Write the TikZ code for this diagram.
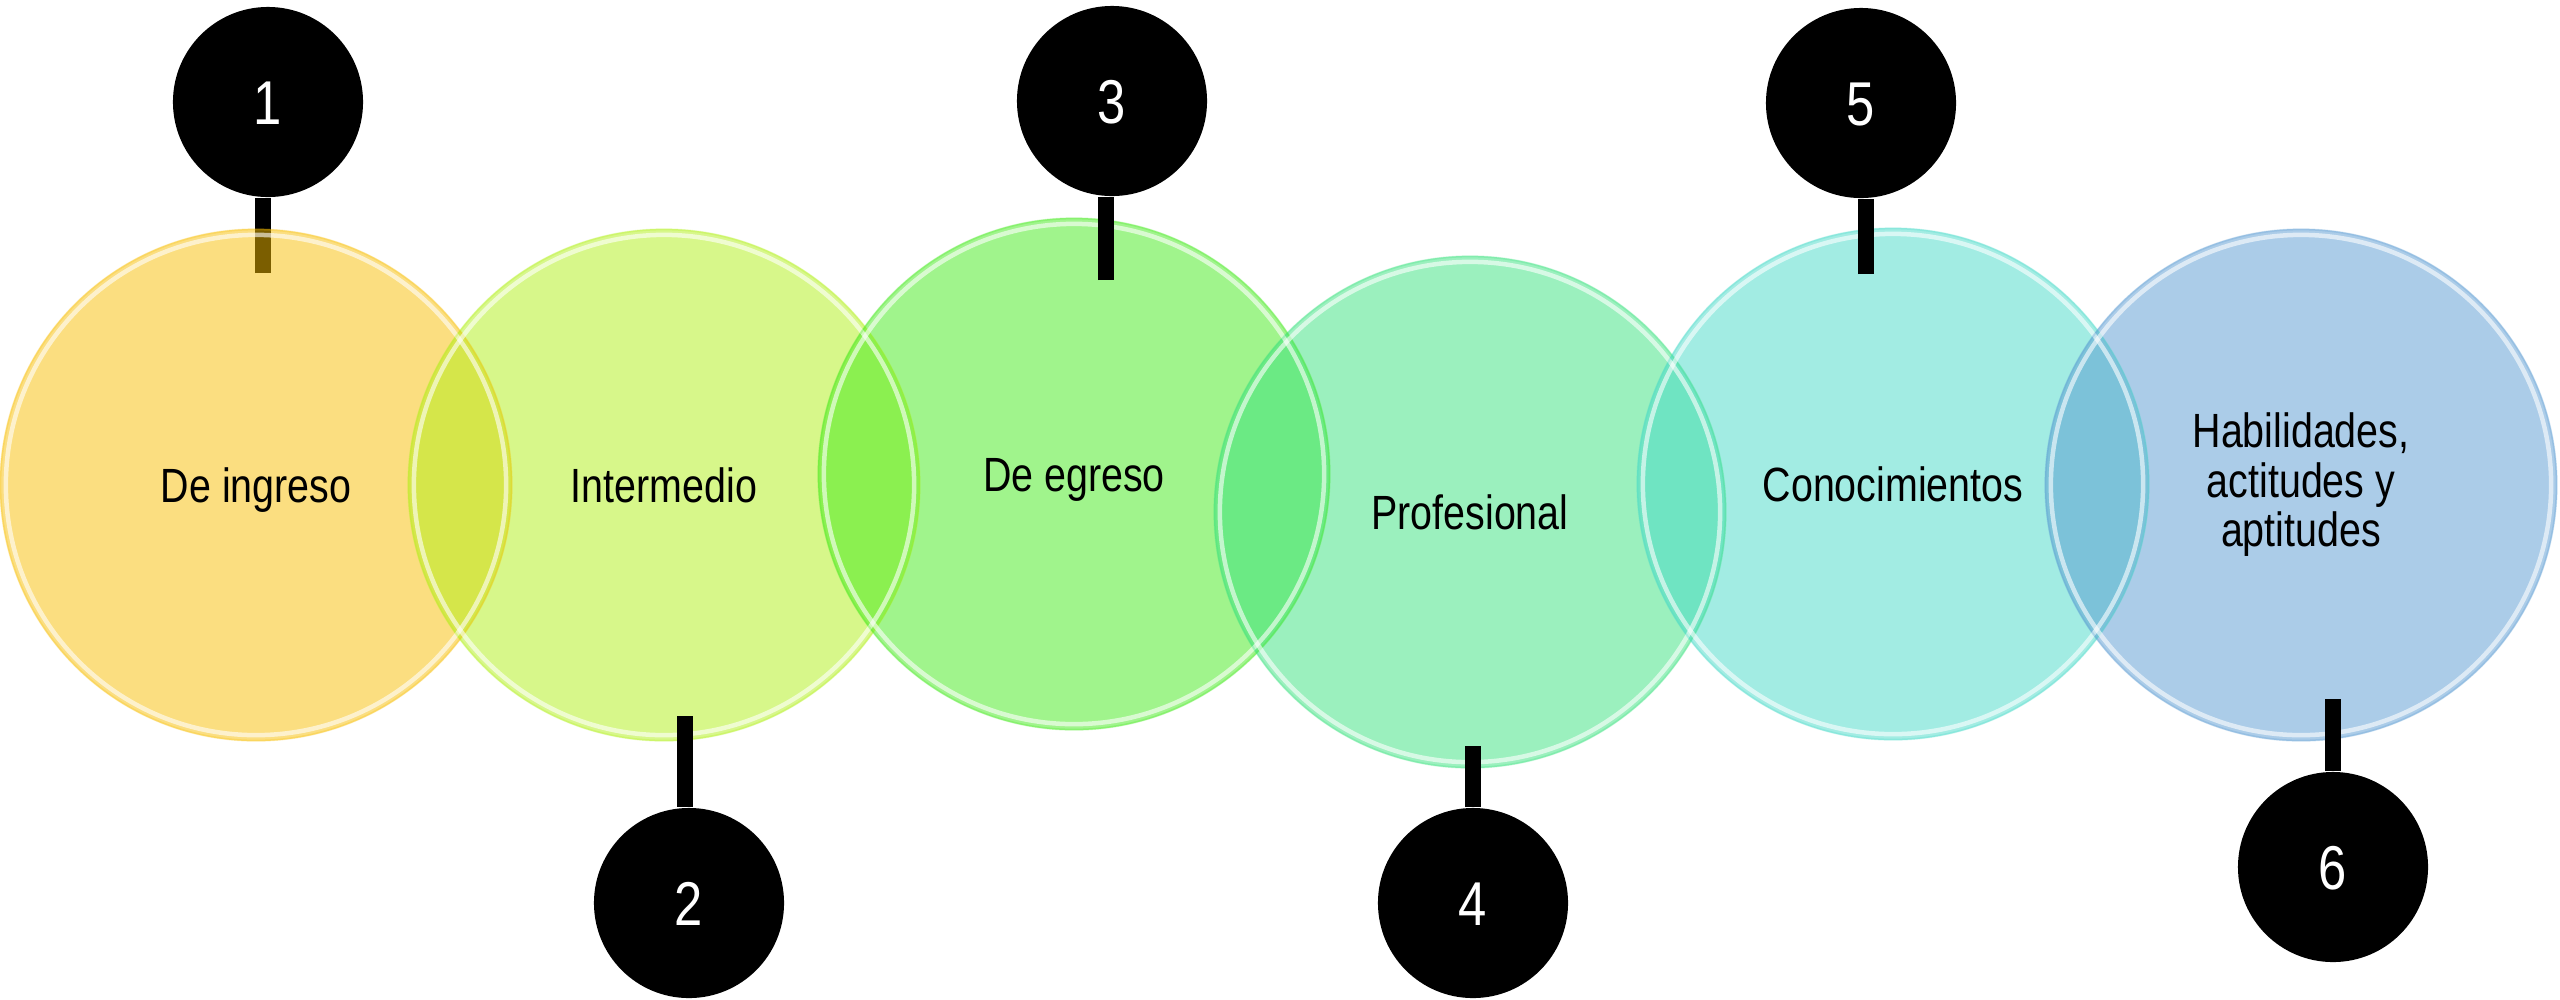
\documentclass[tikz,border=0pt]{standalone}
\usepackage{fontspec}
\setmainfont{Liberation Sans}[FakeStretch=0.82]
\definecolor{c1}{RGB}{247,189,1}
\definecolor{c2}{RGB}{175,239,21}
\definecolor{c3}{RGB}{65,233,25}
\definecolor{c4}{RGB}{55,225,125}
\definecolor{c5}{RGB}{69,217,199}
\definecolor{c6}{RGB}{87,153,209}
\tikzset{
  big/.style={circle, minimum size=5.12cm, inner sep=0pt, fill=#1, fill opacity=0.5, text opacity=1,
    font=\fontsize{13.66pt}{14.08pt}\selectfont, align=center, text height=0.34cm, text depth=0pt},
  multi/.style={text height=, text depth=},
  rim/.style={draw=white, draw opacity=0.6, line width=0.045cm},
  edge/.style={draw=#1, draw opacity=0.25, line width=0.02cm},
  dot/.style={circle, fill=black, minimum size=1.9cm, inner sep=0pt, text=white,
    font=\fontsize{17.6pt}{18pt}\selectfont, text height=0.445cm, text depth=0pt},
  stem/.style={line width=0.155cm, line cap=butt, draw=black}
}
\begin{document}
\begin{tikzpicture}[x=0.01cm,y=-0.01cm]
\useasboundingbox (0,0) rectangle (2560,999);
% black markers
\node[dot] (n1) at (268,102) {1};
\coordinate (e1) at (263,273);
\draw[stem] (e1) -- (e1 |- n1.south);
% big circles
\node[big=c1] (b1) at (256,485) {De ingreso};
\node[big=c2] (b2) at (664,485) {Intermedio};
\node[big=c3] (b3) at (1074,474) {De egreso};
\node[big=c4] (b4) at (1470,512) {Profesional};
\node[big=c5] (b5) at (1893,484) {Conocimientos};
\node[big=c6, multi] (b6) at (2301,485) {Habilidades,\\actitudes y\\aptitudes};
\foreach \b/\c in {b1/c1,b2/c2,b3/c3,b4/c4,b5/c5,b6/c6}{
  \draw[edge=\c] (\b) circle (2.555cm);
  \draw[rim] (\b) circle (2.5cm);
}
% other markers
\node[dot] (n2) at (689,903) {2};
\node[dot] (n3) at (1112,101) {3};
\node[dot] (n4) at (1473,903) {4};
\node[dot] (n5) at (1861,103) {5};
\node[dot] (n6) at (2333,867) {6};
\coordinate (e2) at (685,716);
\coordinate (e3) at (1106,280);
\coordinate (e4) at (1473,746);
\coordinate (e5) at (1866,274);
\coordinate (e6) at (2333,699);
\draw[stem] (e2) -- (e2 |- n2.north);
\draw[stem] (e3) -- (e3 |- n3.south);
\draw[stem] (e4) -- (e4 |- n4.north);
\draw[stem] (e5) -- (e5 |- n5.south);
\draw[stem] (e6) -- (e6 |- n6.north);
\end{tikzpicture}
\end{document}
